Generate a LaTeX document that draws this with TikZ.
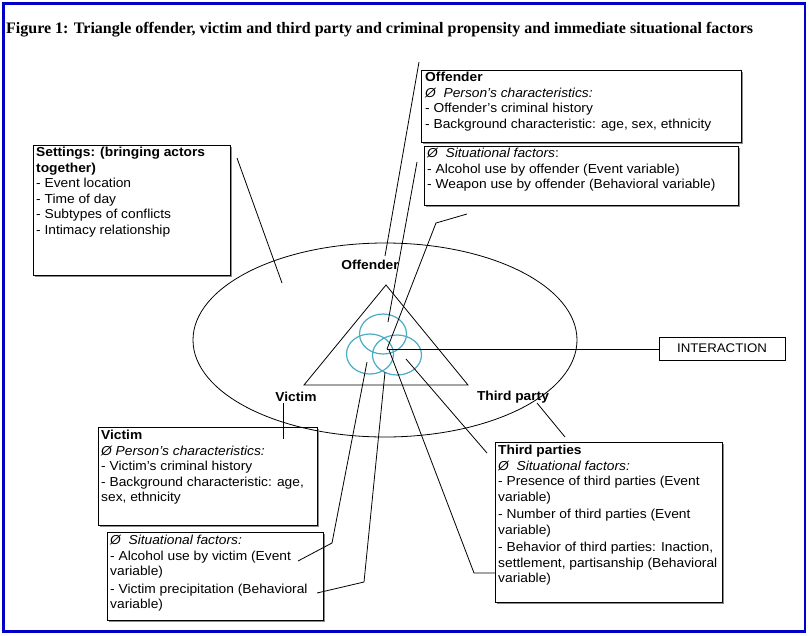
\documentclass[tikz,border=0pt]{standalone}
\usepackage{fontspec}
\setmainfont{Liberation Sans}[FakeStretch=1.06]
\newfontfamily\titlefont{Liberation Serif}
\usetikzlibrary{shapes.geometric,calc}
\definecolor{frameblue}{RGB}{0,0,200}
\definecolor{venn}{RGB}{75,172,198}
\begin{document}
\begin{tikzpicture}[x=1pt,y=-1pt,
  box/.style={draw=black, line width=0.9pt, inner sep=0pt, anchor=north west},
  txt/.style={anchor=north west, inner sep=0pt, align=left, font=\fontsize{13}{15.5}\selectfont},
  lbl/.style={inner sep=0pt, font=\fontsize{13}{15.5}\selectfont\bfseries},
  conn/.style={draw=black, line width=0.8pt},
  boxshade/.style={draw=black!45, line width=1.1pt},
  venncirc/.style={ellipse, draw=venn, line width=1.2pt, inner sep=0pt}
]
\useasboundingbox (0,0) rectangle (809,635);
\fill[white] (0,0) rectangle (809,635);
\draw[frameblue, line width=2.5pt] (3.5,3.5) rectangle (805,631.5);

\node[anchor=west, inner sep=0pt, font=\titlefont\bfseries\fontsize{16}{18}\selectfont] (title) at (6,30)
  {Figure 1: Triangle offender, victim and third party and criminal propensity and immediate situational factors};

% setting ellipse
\node[ellipse, draw=black, line width=0.8pt, minimum width=384pt, minimum height=194pt, inner sep=0pt] (setting) at (385,340) {};

% triangle
\coordinate (tA) at (386,285);
\coordinate (tB) at (304,385);
\coordinate (tC) at (468,385);
\draw[conn] (tA) -- (tB) -- (tC) -- cycle;

% venn circles
\node[venncirc, minimum width=47pt, minimum height=40pt] (vOff) at (383,334) {};
\node[venncirc, minimum width=47pt, minimum height=40pt] (vVic) at (370,354) {};
\node[venncirc, minimum width=49pt, minimum height=40pt] (vThi) at (397,355) {};

% labels
\node[lbl] (lOff) at (370,265) {Offender};
\node[lbl] (lVic) at (296,397) {Victim};
\node[lbl] (lThi) at (513,397) {Third party};

% settings box
\node[box, minimum width=197pt, minimum height=130pt] (settings) at (33,145) {};
\node[txt] (settingsT) at (36,147)
  {\textbf{Settings: (bringing actors}\\\textbf{together)}\\- Event location\\- Time of day\\- Subtypes of conflicts\\- Intimacy relationship};

% offender boxes
\node[box, minimum width=320pt, minimum height=72pt] (off1) at (421,70) {};
\node[txt] (off1T) at (425,72)
  {\textbf{Offender}\\\textit{Ø\ \ Person's characteristics:}\\- Offender's criminal history\\- Background characteristic: age, sex, ethnicity};
\node[box, minimum width=314pt, minimum height=59pt] (off2) at (424,146) {};
\node[txt] (off2T) at (427,148)
  {\textit{Ø\ \ Situational factors}:\\- Alcohol use by offender (Event variable)\\- Weapon use by offender (Behavioral variable)};

% victim boxes
\node[box, minimum width=219pt, minimum height=98pt] (vic1) at (98,427) {};
\node[txt] (vic1T) at (101,430)
  {\textbf{Victim}\\\textit{Ø Person's characteristics:}\\- Victim's criminal history\\- Background characteristic: age,\\sex, ethnicity};
\node[box, minimum width=216pt, minimum height=88pt] (vic2) at (107,532) {};
\node[txt] (vic2T) at (110,535)
  {\textit{Ø\ \ Situational factors:}\\- Alcohol use by victim (Event\\variable)\\[2pt]- Victim precipitation (Behavioral\\variable)};

% third parties box
\node[box, minimum width=227pt, minimum height=160pt] (third) at (495,442) {};
\node[txt] (thirdT) at (498,445)
  {\textbf{Third parties}\\\textit{Ø\ \ Situational factors:}\\- Presence of third parties (Event\\variable)\\[2pt]- Number of third parties (Event\\variable)\\[2pt]- Behavior of third parties: Inaction,\\settlement, partisanship (Behavioral\\variable)};

% interaction box
\node[draw=black, line width=0.9pt, minimum width=126pt, minimum height=23pt, inner sep=0pt, font=\fontsize{12.5}{14}\selectfont] (inter) at (722,348.5) {INTERACTION};

% light shading on right and bottom edges of the text boxes
\foreach \b in {settings,off1,off2,vic1,vic2,third}{
  \draw[boxshade] ($(\b.south west)+(1.5,1)$) -- ($(\b.south east)+(1,1)$) -- ($(\b.north east)+(1,1.5)$);
}

% connectors
\coordinate (sA) at (237,158);
\coordinate (sB) at (282,283);
\draw[conn] (sA) -- (sB);

\coordinate (aTop) at (419,62);
\coordinate (aBot) at (385,256);
\draw[conn] (aTop) -- (aBot);

\coordinate (bTop) at (417,162);
\coordinate (bBot) at (388,322);
\draw[conn] (bTop) -- (bBot);

\coordinate (cTop) at (467,214);
\coordinate (cElb) at (436,223);
\coordinate (hub) at (387,349);
\draw[conn] (cTop) -- (cElb) -- (hub);
\draw[conn] (hub) -- (hub -| inter.west);

\coordinate (dTop) at (367,362);
\coordinate (dElb) at (332,543);
\coordinate (dEnd) at (298,561);
\draw[conn] (dTop) -- (dElb) -- (dEnd);

\coordinate (eTop) at (385,372);
\coordinate (eElb) at (364,582);
\coordinate (eEnd) at (317,593);
\draw[conn] (eTop) -- (eElb) -- (eEnd);

\coordinate (fTop) at (389,350);
\coordinate (fElb) at (474,573);
\draw[conn] (fTop) -- (fElb) -- (fElb -| third.west);

\coordinate (gTop) at (406,359);
\coordinate (gEnd) at (487,453);
\draw[conn] (gTop) -- (gEnd);

\coordinate (hTop) at (537,403);
\coordinate (hEnd) at (565,437);
\draw[conn] (hTop) -- (hEnd);

\coordinate (iTop) at (283,403);
\coordinate (iEnd) at (283,439);
\draw[conn] (iTop) -- (iEnd);
\end{tikzpicture}
\end{document}
